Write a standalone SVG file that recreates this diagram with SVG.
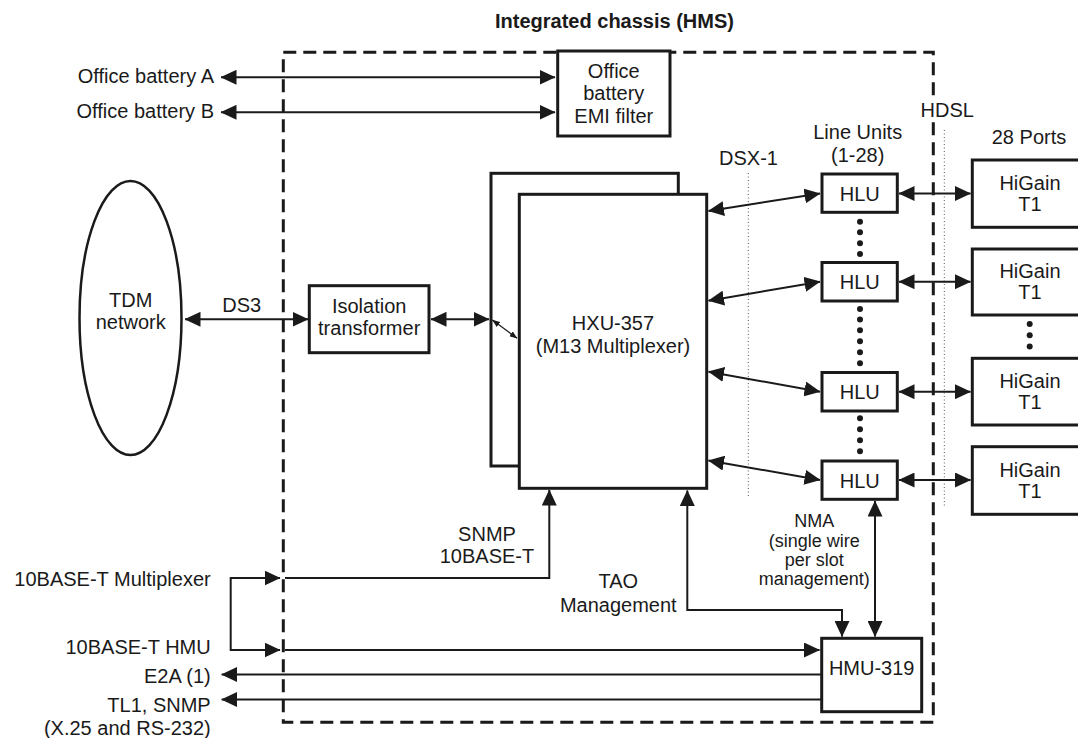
<svg xmlns="http://www.w3.org/2000/svg" width="1078" height="738" viewBox="0 0 1078 738">
<style>
text{font-family:"Liberation Sans",Arial,Helvetica,sans-serif;font-size:20px;fill:#1a1a1a}
.m{text-anchor:middle}
.e{text-anchor:end}
.s{font-size:18px}
.t{font-weight:bold}
.box{fill:#fff;stroke:#1a1a1a;stroke-width:3}
.c{fill:none;stroke:#1a1a1a;stroke-width:2}
.thin{fill:none;stroke:#1a1a1a;stroke-width:1.2}
.dot{fill:#1a1a1a}
.dotted{stroke:#555;stroke-width:1;stroke-dasharray:1 2.5;fill:none}
</style>
<defs>
<marker id="a" markerUnits="userSpaceOnUse" viewBox="0 0 16 15" markerWidth="16" markerHeight="15" refX="15.5" refY="7.5" orient="auto-start-reverse">
<path d="M0,0 L16,7.5 L0,15 Z" fill="#1a1a1a"/>
</marker>
<marker id="sa" markerUnits="userSpaceOnUse" viewBox="0 0 8 6" markerWidth="8" markerHeight="6" refX="7.5" refY="3" orient="auto-start-reverse">
<path d="M0,0 L8,3 L0,6 Z" fill="#1a1a1a"/>
</marker>
</defs>
<rect width="1078" height="738" fill="#fff"/>

<g id="chassis">
<rect x="283.3" y="52.3" width="650" height="670" fill="none" stroke="#1a1a1a" stroke-width="3" stroke-dasharray="13 7"/>
<text class="m t" x="614.5" y="28.3">Integrated chassis (HMS)</text>
</g>

<g id="guides">
<line class="dotted" x1="748.3" y1="173" x2="748.3" y2="497"/>
<line class="dotted" x1="944.3" y1="130" x2="944.3" y2="507"/>
<rect x="914" y="98" width="66" height="23" fill="#fff"/>
<text class="m" x="947.3" y="116.7">HDSL</text>
<text class="m" x="748.5" y="165">DSX-1</text>
<text class="m" x="857.7" y="139.3">Line Units</text>
<text class="m" x="857.7" y="161.5">(1-28)</text>
<text class="m" x="1029" y="144">28 Ports</text>
</g>

<g id="labels">
<text class="e" x="214" y="82.7">Office battery A</text>
<text class="e" x="214" y="117.7">Office battery B</text>
<text class="m" x="241.7" y="311.7">DS3</text>
<text class="e" x="210.7" y="585.5">10BASE-T Multiplexer</text>
<text class="e" x="210.7" y="653.5">10BASE-T HMU</text>
<text class="e" x="210.7" y="683">E2A (1)</text>
<text class="e" x="210.7" y="712">TL1, SNMP</text>
<text class="e" x="210.7" y="734.5">(X.25 and RS-232)</text>
<text class="m" x="487" y="541">SNMP</text>
<text class="m" x="487" y="563.3">10BASE-T</text>
<text class="m" x="618.3" y="588.3">TAO</text>
<text class="m" x="618.3" y="611.7">Management</text>
<text class="m s" x="814.3" y="527.3">NMA</text>
<text class="m s" x="814.3" y="546.7">(single wire</text>
<text class="m s" x="814.3" y="566">per slot</text>
<text class="m s" x="814.3" y="585">management)</text>
</g>

<g id="tdm">
<ellipse cx="130.5" cy="318" rx="51" ry="137" fill="#fff" stroke="#1a1a1a" stroke-width="2.5"/>
<text class="m" x="130.7" y="307.3">TDM</text>
<text class="m" x="130.7" y="329.3">network</text>
</g>

<g id="emi">
<rect class="box" x="557.7" y="51" width="112.3" height="85"/>
<text class="m" x="613.8" y="78.3">Office</text>
<text class="m" x="613.8" y="100.3">battery</text>
<text class="m" x="613.8" y="122.7">EMI filter</text>
</g>

<g id="isolation">
<rect class="box" x="309.3" y="285.7" width="119.7" height="67"/>
<text class="m" x="369.2" y="313.3">Isolation</text>
<text class="m" x="369.2" y="335">transformer</text>
</g>

<g id="hxu">
<rect class="box" x="491" y="173.3" width="187.3" height="292.7"/>
<rect class="box" x="519.3" y="194.3" width="187.4" height="294"/>
<text class="m" x="613" y="330">HXU-357</text>
<text class="m" x="613" y="353.3">(M13 Multiplexer)</text>
</g>

<g id="hlu1"><rect class="box" x="822" y="174" width="75.3" height="38.3"/><text class="m" x="859.7" y="200.7">HLU</text></g>
<g id="hlu2"><rect class="box" x="822" y="262.5" width="75.3" height="38.5"/><text class="m" x="859.7" y="289">HLU</text></g>
<g id="hlu3"><rect class="box" x="822" y="372.5" width="75.3" height="38.5"/><text class="m" x="859.7" y="399">HLU</text></g>
<g id="hlu4"><rect class="box" x="822" y="461" width="75.3" height="38.3"/><text class="m" x="859.7" y="487.5">HLU</text></g>

<g id="hlu-dots">
<circle class="dot" cx="860" cy="221.7" r="3"/><circle class="dot" cx="860" cy="232.3" r="3"/><circle class="dot" cx="860" cy="243.3" r="3"/><circle class="dot" cx="860" cy="254" r="3"/>
<circle class="dot" cx="860" cy="309" r="3"/><circle class="dot" cx="860" cy="319.5" r="3"/><circle class="dot" cx="860" cy="330.2" r="3"/><circle class="dot" cx="860" cy="341.2" r="3"/><circle class="dot" cx="860" cy="352.2" r="3"/><circle class="dot" cx="860" cy="363.2" r="3"/>
<circle class="dot" cx="860" cy="418.3" r="3"/><circle class="dot" cx="860" cy="429.3" r="3"/><circle class="dot" cx="860" cy="440.2" r="3"/><circle class="dot" cx="860" cy="451.3" r="3"/>
</g>

<g id="higain1"><rect class="box" x="972.3" y="160" width="120" height="67.3"/><text class="m" x="1030" y="190">HiGain</text><text class="m" x="1030" y="210.7">T1</text></g>
<g id="higain2"><rect class="box" x="972.3" y="249" width="120" height="66"/><text class="m" x="1030" y="278.3">HiGain</text><text class="m" x="1030" y="299">T1</text></g>
<g id="higain3"><rect class="box" x="972.3" y="358.3" width="120" height="66.7"/><text class="m" x="1030" y="388">HiGain</text><text class="m" x="1030" y="408.7">T1</text></g>
<g id="higain4"><rect class="box" x="972.3" y="446.7" width="120" height="67.6"/><text class="m" x="1030" y="477">HiGain</text><text class="m" x="1030" y="497.7">T1</text></g>

<g id="port-dots">
<circle class="dot" cx="1029.7" cy="324" r="3"/><circle class="dot" cx="1029.7" cy="335.3" r="3"/><circle class="dot" cx="1029.7" cy="346.5" r="3"/>
</g>

<g id="hmu">
<rect class="box" x="821.7" y="638.3" width="100" height="73.4"/>
<text class="m" x="871.7" y="675">HMU-319</text>
</g>

<g id="connectors">
<path class="c" d="M221,77.3 H555" marker-start="url(#a)" marker-end="url(#a)"/>
<path class="c" d="M221,112.3 H555" marker-start="url(#a)" marker-end="url(#a)"/>
<path class="c" d="M185,319.3 H308" marker-start="url(#a)" marker-end="url(#a)"/>
<path class="c" d="M431,319.3 H489" marker-start="url(#a)" marker-end="url(#a)"/>
<path class="thin" d="M492.5,320 L517,338.3" marker-start="url(#sa)" marker-end="url(#sa)"/>
<path class="c" d="M708.5,211 L820,193.5" marker-start="url(#a)" marker-end="url(#a)"/>
<path class="c" d="M708.5,300.7 L820,281.7" marker-start="url(#a)" marker-end="url(#a)"/>
<path class="c" d="M708.5,371.7 L820,391.7" marker-start="url(#a)" marker-end="url(#a)"/>
<path class="c" d="M708.5,460.5 L820,480" marker-start="url(#a)" marker-end="url(#a)"/>
<path class="c" d="M899,193.5 H970.5" marker-start="url(#a)" marker-end="url(#a)"/>
<path class="c" d="M899,281.7 H970.5" marker-start="url(#a)" marker-end="url(#a)"/>
<path class="c" d="M899,391.7 H970.5" marker-start="url(#a)" marker-end="url(#a)"/>
<path class="c" d="M899,480 H970.5" marker-start="url(#a)" marker-end="url(#a)"/>
<path class="c" d="M280,578 H230.7 V650 H280" marker-start="url(#a)" marker-end="url(#a)"/>
<path class="c" d="M285,578 H549.3 V490" marker-end="url(#a)"/>
<path class="c" d="M285,650 H819.5" marker-end="url(#a)"/>
<path class="c" d="M821,674.5 H221.7" marker-end="url(#a)"/>
<path class="c" d="M821,699.5 H221.7" marker-end="url(#a)"/>
<path class="c" d="M687.3,490.5 V610 H842 V636.5" marker-start="url(#a)" marker-end="url(#a)"/>
<path class="c" d="M875,501 V636.5" marker-start="url(#a)" marker-end="url(#a)"/>
</g>
</svg>
